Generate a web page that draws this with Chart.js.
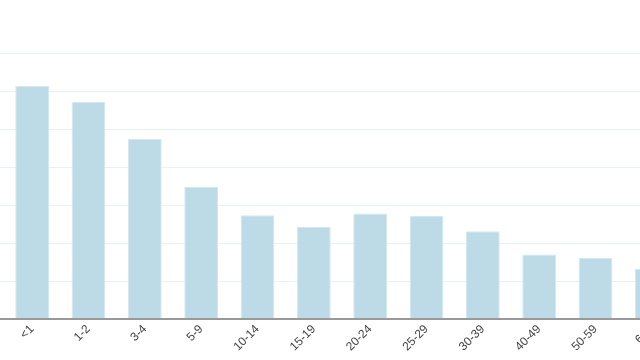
<!DOCTYPE html>
<html>
<head>
<meta charset="utf-8">
<script src="https://cdn.jsdelivr.net/npm/chart.js@4"></script>
<style>
  html, body { margin: 0; padding: 0; background: #fff; overflow: hidden; }
  #wrap { position: relative; width: 640px; height: 360px; overflow: hidden; }
  #chart { position: absolute; left: 0; top: 0; }
</style>
</head>
<body>
<div id="wrap">
  <canvas id="chart" width="680" height="360"></canvas>
</div>
<script>
// age groups
const ageGroups = ['<1', '1-2', '3-4', '5-9', '10-14', '15-19', '20-24', '25-29', '30-39', '40-49', '50-59', '60+'];
const values = [61.3, 57.2, 47.4, 34.8, 27.3, 24.2, 27.8, 27.2, 23.1, 17.0, 16.1, 13.2];
const yMax = 70;
const yStep = 10;

const ctx = document.getElementById('chart').getContext('2d');
new Chart(ctx, {
    type: 'bar',
    data: {
        labels: ageGroups,
        datasets: [{
            data: values,
            backgroundColor: '#bcdbe7',
            borderColor: '#d3e8f0',
            borderWidth: 1,
            barPercentage: 0.6,
            categoryPercentage: 1
        }]
    },
    options: {
        responsive: false,
        animation: false,
        layout: { padding: { top: 53, left: 0, right: 0, bottom: 3 } },
        plugins: { legend: { display: false }, tooltip: { enabled: false } },
        scales: {
            x: {
                grid: { display: false, drawTicks: false },
                border: { display: false },
                ticks: {
                    minRotation: 45,
                    maxRotation: 45,
                    padding: 3,
                    color: '#444',
                    font: { family: 'Liberation Sans', size: 12 }
                }
            },
            y: {
                min: 0,
                max: yMax,
                ticks: { display: false, stepSize: yStep },
                border: { display: false },
                grid: {
                    // zero line doubles as the x axis line
                    color: c => c.tick && c.tick.value === 0 ? '#999' : '#eaf1f4',
                    lineWidth: c => c.tick && c.tick.value === 0 ? 2 : 1,
                    drawTicks: true,
                    tickLength: 4
                }
            }
        }
    }
});
</script>
</body>
</html>
